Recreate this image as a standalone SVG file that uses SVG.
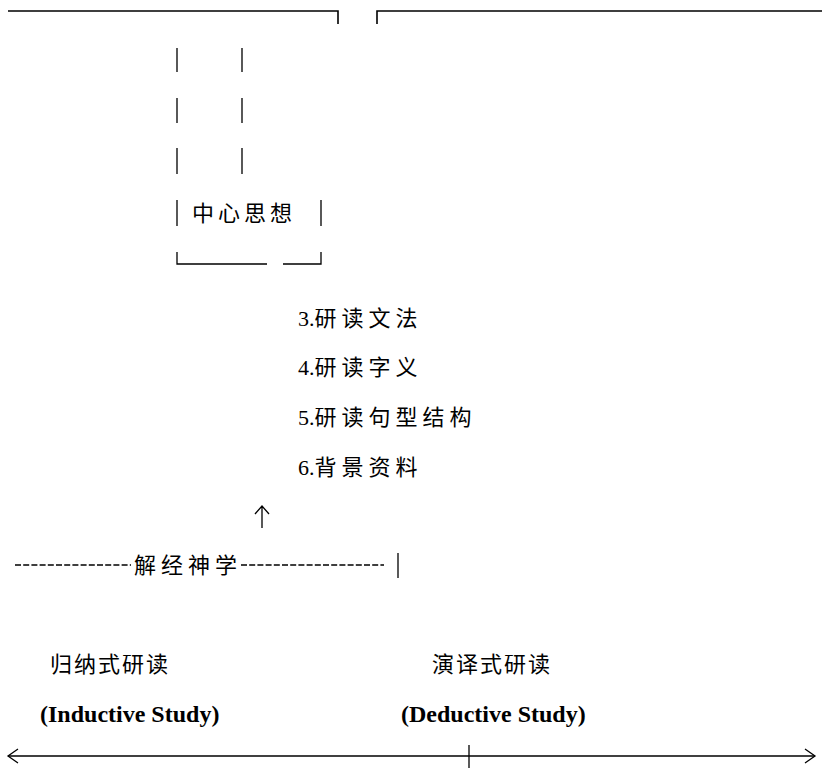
<svg xmlns="http://www.w3.org/2000/svg" width="822" height="769" viewBox="0 0 822 769">
<defs>
<style>
.ln{stroke:#000;stroke-width:1.6;fill:none}
.thin{stroke:#000;stroke-width:1.3;fill:none}
.dash{stroke:#000;stroke-width:1.3;fill:none;stroke-dasharray:6 2.2}
.zh{font-family:"Noto Sans CJK SC","Liberation Serif",serif;font-size:22px;fill:#000;letter-spacing:4px}
.ls{font-family:"Liberation Serif","Noto Sans CJK SC",serif;font-size:22px;fill:#000}
.ls .c{font-family:"Noto Sans CJK SC",serif;letter-spacing:5px}
.en{font-family:"Liberation Serif",serif;font-size:24px;font-weight:bold;fill:#000}
</style>
</defs>
<rect width="822" height="769" fill="#fff"/>
<g id="connectors">
  <path class="ln" d="M8 11 H338 V24"/>
  <path class="ln" d="M377 24 V11 H822"/>
  <path class="thin" d="M262 528 V506 M255 514 L262 506 L269 514"/>
</g>
<g id="frame">
  <path class="thin" d="M177 48 V72 M242 48 V72 M177 98 V123 M242 98 V123 M177 148 V174 M242 148 V174"/>
  <path class="thin" d="M177 200 V226 M321 200 V226"/>
  <path class="thin" d="M177 252 V264 H267 M283 264 H321 V252"/>
</g>
<g id="central-idea">
  <text class="zh" x="192" y="221">中心思想</text>
</g>
<g id="steps">
  <text class="ls" x="298" y="326">3.<tspan class="c">研读文法</tspan></text>
  <text class="ls" x="298" y="375">4.<tspan class="c">研读字义</tspan></text>
  <text class="ls" x="298" y="425">5.<tspan class="c">研读句型结构</tspan></text>
  <text class="ls" x="298" y="475">6.<tspan class="c">背景资料</tspan></text>
</g>
<g id="hermeneutics">
  <line class="dash" x1="15" y1="565" x2="131" y2="565"/>
  <text class="zh" x="134" y="573" style="letter-spacing:5px">解经神学</text>
  <line class="dash" x1="241" y1="565" x2="384" y2="565"/>
  <line class="thin" x1="398" y1="553" x2="398" y2="578"/>
</g>
<g id="inductive">
  <text class="zh" x="50" y="672" style="letter-spacing:2px">归纳式研读</text>
  <text class="en" x="40" y="722">(Inductive Study)</text>
</g>
<g id="deductive">
  <text class="zh" x="432" y="672" style="letter-spacing:2px">演译式研读</text>
  <text class="en" x="401" y="722">(Deductive Study)</text>
</g>
<g id="axis">
  <path class="thin" d="M8 756 H815"/>
  <path class="thin" d="M18 749 L8 756 L18 763"/>
  <path class="thin" d="M805 749 L815 756 L805 763"/>
  <path class="thin" d="M469 745 V768"/>
</g>
</svg>
